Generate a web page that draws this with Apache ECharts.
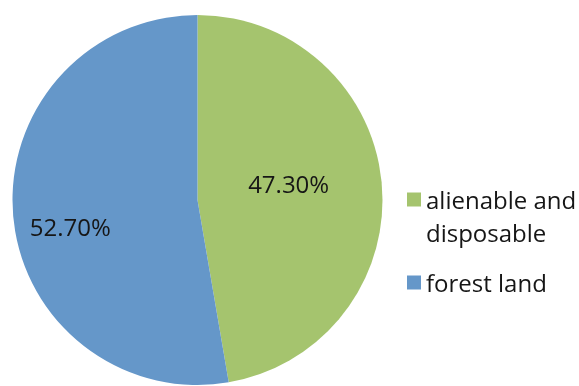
<!DOCTYPE html>
<html>
<head>
<meta charset="utf-8">
<script src="https://cdn.jsdelivr.net/npm/echarts@6/dist/echarts.min.js"></script>
<style>
  html, body { margin: 0; padding: 0; background: #ffffff; }
  #chart { width: 579px; height: 386px; }
</style>
</head>
<body>
<div id="chart"></div>
<script>
// Land classification shares
const categories = ['alienable and\ndisposable', 'forest land'];
const shares = [47.30, 52.70];
const colors = ['#a5c46e', '#6597c9'];

const FONT = '"Open Sans", Lato, sans-serif';
const LINE = 33;

const chart = echarts.init(document.getElementById('chart'), null, { renderer: 'canvas' });

const pieData = categories.map((name, i) => ({
  name: name,
  value: shares[i],
  itemStyle: { color: colors[i] }
}));

// Nudges for the in-slice percentage labels
const labelNudge = [[-4, -6], [-32, 21]];

const textToken = { fontFamily: FONT, fontSize: 24, color: '#161616', lineHeight: LINE };

// A short spacer line above each legend label sets where the text sits
// against its swatch.
function legendLabel() {
  return name => '{s| }\n' + name.split('\n').map(s => '{t|' + s + '}').join('\n');
}

const legendBase = {
  orient: 'vertical',
  left: 407,
  padding: 0,
  itemWidth: 14,
  itemHeight: 14,
  itemGap: 6,
  icon: 'rect',
  selectedMode: false
};

function legendStyle(spacer) {
  return {
    fontFamily: FONT, fontSize: 24, color: '#161616',
    rich: {
      s: { fontSize: 4, lineHeight: spacer },
      t: textToken
    }
  };
}

chart.setOption({
  animation: false,
  backgroundColor: '#ffffff',
  legend: [
    Object.assign({}, legendBase, {
      data: [categories[0]],
      top: 164.5,
      formatter: legendLabel(),
      textStyle: legendStyle(39)
    }),
    Object.assign({}, legendBase, {
      data: [categories[1]],
      top: 264,
      formatter: legendLabel(),
      textStyle: legendStyle(6)
    })
  ],
  series: [
    {
      type: 'pie',
      center: [197.5, 200],
      radius: 185,
      startAngle: 90,
      clockwise: true,
      data: pieData,
      itemStyle: { borderWidth: 0 },
      emphasis: { disabled: true },
      label: {
        show: true,
        position: 'inside',
        fontFamily: FONT,
        fontSize: 24,
        color: '#161616',
        formatter: p => p.value.toFixed(2) + '%'
      },
      labelLine: { show: false },
      labelLayout: p => ({ dx: labelNudge[p.dataIndex][0], dy: labelNudge[p.dataIndex][1] })
    }
  ]
});
</script>
</body>
</html>
